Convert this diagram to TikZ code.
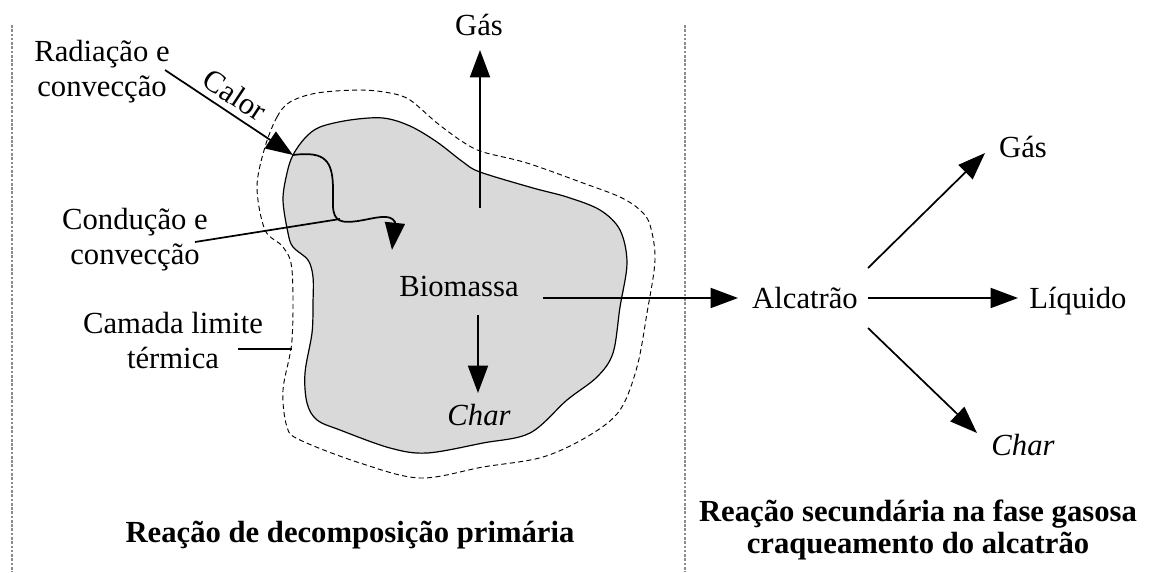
\documentclass[tikz,border=0pt]{standalone}
\usepackage{fontspec}
\setmainfont{Liberation Serif}
\usetikzlibrary{arrows.meta}
\begin{document}
\begin{tikzpicture}[x=0.75pt,y=-0.75pt,
  lbl/.style={font=\fontsize{23}{26.25}\selectfont, inner sep=0pt},
  itl/.style={font=\fontsize{23}{26.25}\selectfont\itshape, inner sep=0pt},
  ttl/.style={font=\fontsize{23}{23.7}\selectfont\bfseries, inner sep=0pt, align=center},
  arr/.style={line width=1.3pt, -{Triangle[length=20.5pt,width=15pt]}},
  plain/.style={line width=1.3pt},
  sepline/.style={black!45, line width=1pt, dash pattern=on 2pt off 1.2pt},
  blob/.style={fill=black!15, draw=black, line width=0.9pt},
  bound/.style={draw=black, line width=0.7pt, dash pattern=on 3.8pt off 2.5pt},
]
\useasboundingbox (0,0) rectangle (1153,572);

% separators
\coordinate (s1a) at (12,25);  \coordinate (s1b) at (12,572);
\coordinate (s2a) at (685,25); \coordinate (s2b) at (685,572);
\draw[sepline] (s1a) -- (s1b);
\draw[sepline] (s2a) -- (s2b);

% particle
\draw[blob] plot[smooth cycle, tension=0.55] coordinates {
 (293,155) (305,138) (320,127) (350,120) (383,118) (410,126) (437,142)
 (463,162) (480,172) (533,188) (567,197) (600,210) (620,230) (627,263)
 (620,307) (613,353) (597,377) (567,400) (530,433) (483,443) (427,453)
 (390,448) (340,430) (317,420) (307,403) (305,373) (312,333) (313,303)
 (313,277) (308,260) (293,247) (288,233) (283,200) (287,173)};

% thermal boundary layer
\draw[bound] plot[smooth cycle, tension=0.55] coordinates {
 (265,147) (277,117) (290,102) (317,93) (360,90) (390,93) (410,100)
 (437,123) (463,142) (483,152) (527,163) (583,183) (620,197) (640,210)
 (650,225) (655,260) (647,313) (637,367) (620,410) (590,435) (543,457)
 (483,467) (420,478) (360,463) (300,440) (287,427) (283,390) (292,340)
 (292,270) (283,247) (265,230) (257,187)};

% labels
\node[lbl, anchor=base] (gasA) at (479,35) {Gás};
\node[lbl, align=center] (rad) at (102,72) {Radiação e\\convecção};
\node[lbl, rotate=-33.6] (calor) at (235,95) {Calor};
\node[lbl, align=center] (cond) at (135,240) {Condução e\\convecção};
\node[lbl, align=center] (camada) at (173,341) {Camada limite\\térmica};
\node[lbl, anchor=base] (bio) at (459,296) {Biomassa};
\node[itl, anchor=base] (charA) at (479,425) {Char};
\node[lbl, anchor=base] (alc) at (805,308) {Alcatrão};
\node[lbl, anchor=base] (liq) at (1078,308) {Líquido};
\node[lbl, anchor=base] (gasB) at (1023,157) {Gás};
\node[itl, anchor=base] (charB) at (1023,455) {Char};
\node[ttl, anchor=base] (t1) at (350,542) {Reação de decomposição primária};
\node[ttl] (t2) at (918,530) {Reação secundária na fase gasosa\\craqueamento do alcatrão};

% connector end points
\coordinate (radS) at (165,70);
\coordinate (hit) at (293,155);
\coordinate (inT) at (392,250);
\coordinate (condS) at (195,242);
\coordinate (condJ) at (340,219);
\coordinate (camS) at (238,349);
\coordinate (camE) at (292,349);
\coordinate (gasS) at (480,208);
\coordinate (gasT) at (480,50);
\coordinate (chS) at (478,315);
\coordinate (chT) at (478,393);
\coordinate (bioS) at (543,298);
\coordinate (alcT) at (738,298);
\coordinate (alcE) at (868,298);
\coordinate (liqT) at (1018,298);
\coordinate (upS) at (868,268);
\coordinate (upT) at (985,153);
\coordinate (dnS) at (868,328);
\coordinate (dnT) at (977,433);

% heat
\draw[arr] (radS) -- (hit);
\draw[arr] (hit) .. controls (325,151) and (333,160) .. (333,190)
  -- (333,205) .. controls (333,223) and (343,223) .. (358,221)
  .. controls (376,218) and (390,213) .. (395,222) -- (inT);
\draw[plain] (condS) -- (condJ);
\draw[line width=1pt] (camS) -- (camE);

% products
\draw[arr] (gasS) -- (gasT);
\draw[arr] (chS) -- (chT);
\draw[arr] (bioS) -- (alcT);
\draw[arr] (alcE) -- (liqT);
\draw[arr] (upS) -- (upT);
\draw[arr] (dnS) -- (dnT);
\end{tikzpicture}
\end{document}
